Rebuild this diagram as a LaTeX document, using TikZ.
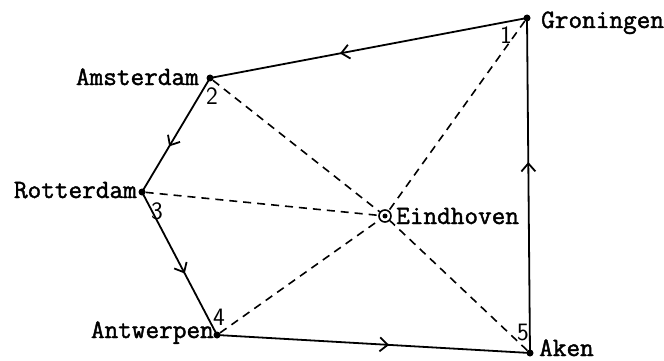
\documentclass[tikz,border=0pt]{standalone}
\usepackage{fontspec}
\newfontfamily\typew[FakeBold=1.6]{Latin Modern Mono}
\usetikzlibrary{arrows.meta,decorations.markings}
\begin{document}
\begin{tikzpicture}[x=1pt,y=-1pt,
  city/.style={circle,fill=black,inner sep=0pt,minimum size=7pt},
  hub/.style={circle,draw=black,line width=1.6pt,inner sep=0pt,minimum size=12pt},
  townlbl/.style={font=\typew\fontsize{26.5}{26.5}\selectfont,inner sep=0pt},
  numlbl/.style={font=\sffamily\fontsize{25}{25}\selectfont,inner sep=0pt},
  route/.style={line width=1.8pt,postaction={decorate},
    decoration={markings,mark=at position #1 with {\arrow{Straight Barb[length=8pt,width=14pt,line width=1.8pt]}}}},
  spoke/.style={line width=1.6pt,dash pattern=on 8pt off 6pt}]
\useasboundingbox (0,0) rectangle (664,361);
\node[city] (gro) at (527,18) {};
\node[city] (ams) at (210,78) {};
\node[city] (rot) at (142,192) {};
\node[hub] (ein) at (385,216) {};
\node[city,minimum size=5pt] (einc) at (385,216) {};
\node[city] (ant) at (217,335) {};
\node[city] (ake) at (530,353) {};
% labels
\node[townlbl,anchor=base west] (lgro) at (541,28) {Groningen};
\node[townlbl,anchor=base east] (lams) at (199,85) {Amsterdam};
\node[townlbl,anchor=base east] (lrot) at (137,198) {Rotterdam};
\node[townlbl,anchor=base west] (lein) at (396,224) {Eindhoven};
\node[townlbl,anchor=base east] (lant) at (214,338) {Antwerpen};
\node[townlbl,anchor=base west] (lake) at (539,356) {Aken};
% numbers
\node[numlbl] (n1) at (506,35) {1};
\node[numlbl] (n2) at (212,96) {2};
\node[numlbl] (n3) at (157,211) {3};
\node[numlbl] (n4) at (219,317) {4};
\node[numlbl] (n5) at (523,332) {5};
% spokes
\draw[spoke] (gro) -- (ein);
\draw[spoke] (ams) -- (ein);
\draw[spoke] (rot) -- (ein);
\draw[spoke] (ant) -- (ein);
\draw[spoke] (ake) -- (ein);
% route
\draw[route=0.59] (gro.center) -- (ams.center);
\draw[route=0.6] (ams.center) -- (rot.center);
\draw[route=0.57] (rot.center) -- (ant.center);
\draw[route=0.55] (ant.center) -- (ake.center);
\draw[route=0.57] (ake.center) -- (gro.center);
\end{tikzpicture}
\end{document}
